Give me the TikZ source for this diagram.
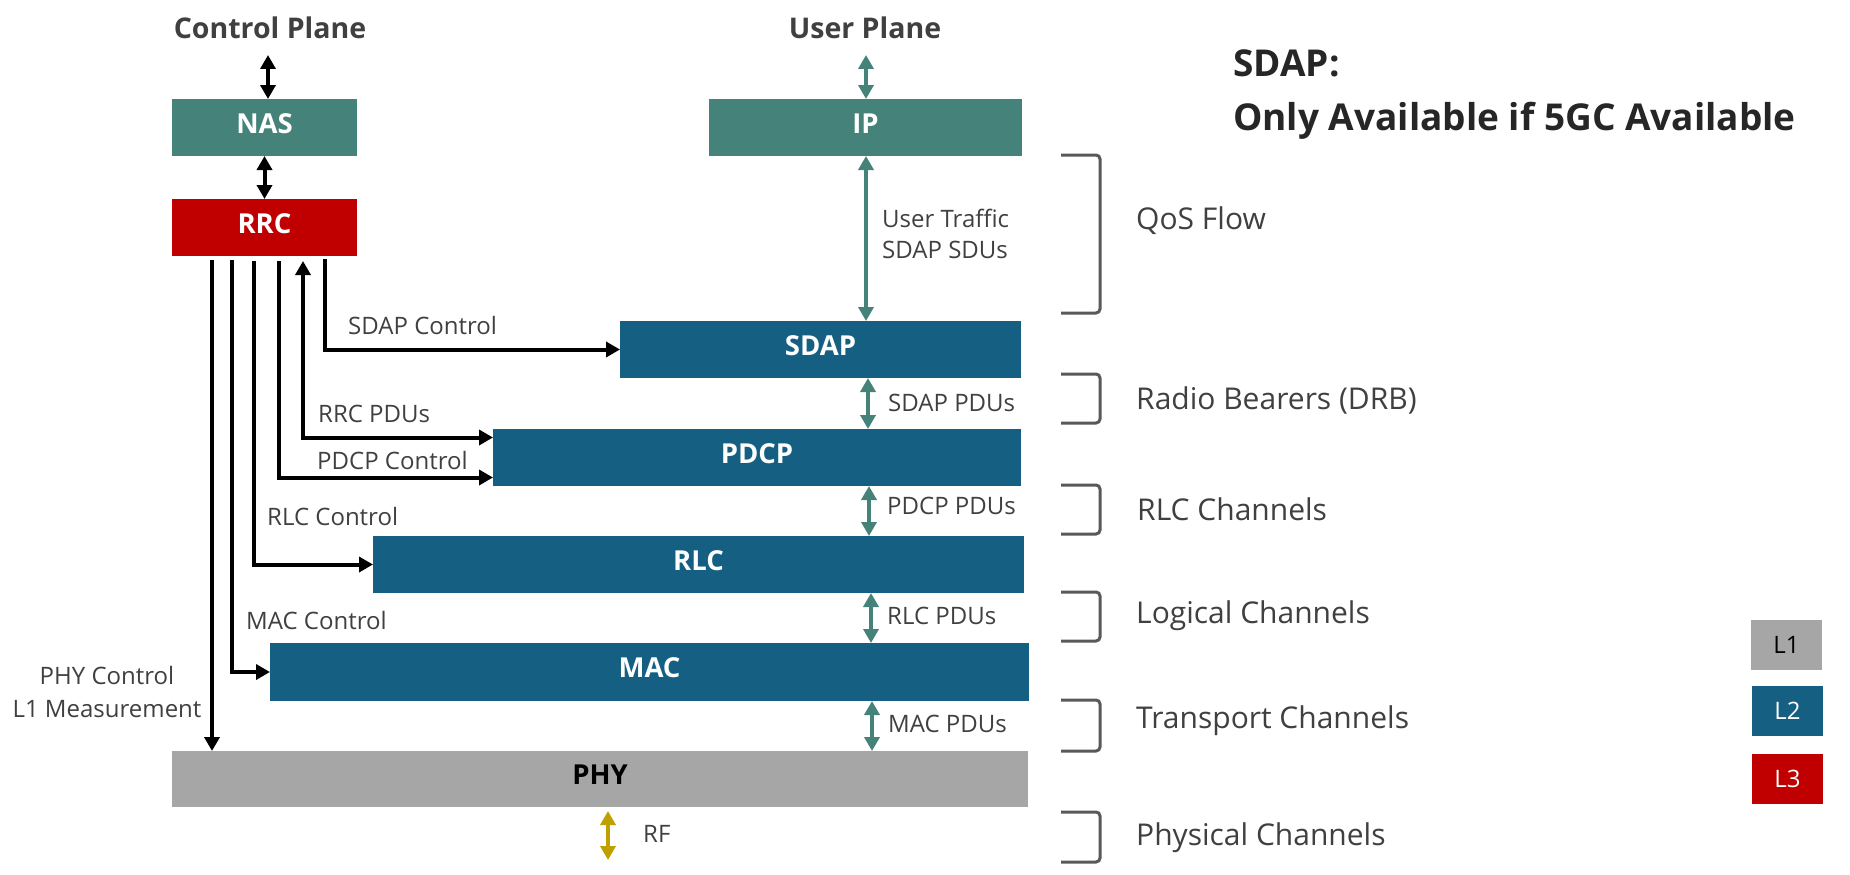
\documentclass[tikz,border=0pt]{standalone}
\usepackage{fontspec}
\setmainfont{Open Sans}
\usetikzlibrary{arrows.meta}
\definecolor{cTeal}{HTML}{45837A}
\definecolor{cBlue}{HTML}{156082}
\definecolor{cRed}{HTML}{C00000}
\definecolor{cGray}{HTML}{A6A6A6}
\definecolor{cGold}{HTML}{C0A000}
\definecolor{cText}{HTML}{404040}
\definecolor{cTitle}{HTML}{262626}
\definecolor{cBracket}{HTML}{595959}
\begin{document}
\begin{tikzpicture}[x=1pt,y=-1pt,
  layer/.style={rectangle, inner sep=0pt, outer sep=0pt, anchor=north west,
    font=\bfseries\fontsize{27.5}{30}\selectfont, text=white, text height=17pt, text depth=6pt},
  legendbox/.style={rectangle, inner sep=0pt, outer sep=0pt, anchor=north west,
    minimum width=71pt, minimum height=50pt, font=\fontsize{24}{28}\selectfont, text=white},
  lbl/.style={inner sep=0pt, anchor=base west, text=cText, font=\fontsize{24}{28}\selectfont},
  sidelbl/.style={inner sep=0pt, anchor=base west, text=cText, font=\fontsize{30}{34}\selectfont},
  planetitle/.style={inner sep=0pt, anchor=base, text=cText, font=\bfseries\fontsize{28.5}{32}\selectfont},
  bigtitle/.style={inner sep=0pt, anchor=base west, text=cTitle, font=\bfseries\fontsize{37}{42}\selectfont},
  ctl/.style={draw=black, line width=4pt, -{Triangle[width=15pt,length=14pt]}},
  ctlboth/.style={draw=black, line width=4pt, {Triangle[width=15pt,length=14pt]}-{Triangle[width=15pt,length=14pt]}},
  usr/.style={draw=cTeal, line width=4pt, {Triangle[width=15pt,length=14pt]}-{Triangle[width=15pt,length=14pt]}},
  rfarrow/.style={draw=cGold, line width=4pt, {Triangle[width=15pt,length=14pt]}-{Triangle[width=15pt,length=14pt]}},
  bracket/.style={draw=cBracket, line width=3pt, rounded corners=4pt}
]
\useasboundingbox[fill=white] (0,0) rectangle (1850,875);

% layer boxes
\node[layer, fill=cTeal, minimum width=185pt, minimum height=57pt] (NAS) at (172,99) {NAS};
\node[layer, fill=cRed, minimum width=185pt, minimum height=57pt] (RRC) at (172,199) {RRC};
\node[layer, fill=cTeal, minimum width=313pt, minimum height=57pt] (IP) at (709,99) {IP};
\node[layer, fill=cBlue, minimum width=401pt, minimum height=57pt] (SDAP) at (620,321) {SDAP};
\node[layer, fill=cBlue, minimum width=528pt, minimum height=57pt] (PDCP) at (493,429) {PDCP};
\node[layer, fill=cBlue, minimum width=651pt, minimum height=57pt] (RLC) at (373,536) {RLC};
\node[layer, fill=cBlue, minimum width=759pt, minimum height=58pt] (MAC) at (270,643) {MAC};
\node[layer, fill=cGray, text=black, minimum width=856pt, minimum height=56pt] (PHY) at (172,751) {PHY};

% titles
\node[planetitle] (cptitle) at (270,39) {Control Plane};
\node[planetitle] (uptitle) at (865,39) {User Plane};
\node[bigtitle] (note1) at (1233,77) {SDAP:};
\node[bigtitle] (note2) at (1233,130) {Only Available if 5GC Available};

% control plane arrows
\coordinate (cpTop) at (268,55);
\draw[ctlboth] (cpTop) -- (cpTop |- NAS.north);
\draw[ctlboth] (NAS.south) -- (RRC.north);

\coordinate (c1) at ([xshift=40pt,yshift=-4pt]RRC.south west);
\coordinate (c2) at ([xshift=60pt,yshift=-4pt]RRC.south west);
\coordinate (c3) at ([xshift=82pt,yshift=-5pt]RRC.south west);
\coordinate (c4) at ([xshift=107pt,yshift=-5pt]RRC.south west);
\coordinate (c5) at ([xshift=131pt,yshift=-5pt]RRC.south west);
\coordinate (c6) at ([xshift=153pt,yshift=-3pt]RRC.south west);
\draw[ctl] (c1) -- (c1 |- PHY.north);
\draw[ctl] (c2) |- (MAC.west);
\draw[ctl] (c3) |- (RLC.west);
\draw[ctl] (c4) |- ([yshift=-20pt]PDCP.west);
\draw[ctlboth] (c5) |- ([yshift=20pt]PDCP.west);
\draw[ctl] (c6) |- (SDAP.west);

% user plane arrows
\coordinate (upTop) at (866,55);
\coordinate (xa) at (866,0);
\coordinate (xb) at (868,0);
\coordinate (xc) at (869,0);
\coordinate (xd) at (871,0);
\coordinate (xe) at (872,0);
\draw[usr] (upTop) -- (upTop |- IP.north);
\draw[usr] (IP.south -| xa) -- (SDAP.north -| xa);
\draw[usr] (SDAP.south -| xb) -- (PDCP.north -| xb);
\draw[usr] (PDCP.south -| xc) -- (RLC.north -| xc);
\draw[usr] (RLC.south -| xd) -- (MAC.north -| xd);
\draw[usr] (MAC.south -| xe) -- (PHY.north -| xe);

% RF
\coordinate (rfEnd) at (608,860);
\draw[rfarrow] ([yshift=-4pt]PHY.south -| rfEnd) -- (rfEnd);

% connector labels
\node[lbl] (lSDAPc) at (348,334) {SDAP Control};
\node[lbl] (lRRCp) at (318,422) {RRC PDUs};
\node[lbl] (lPDCPc) at (317,469) {PDCP Control};
\node[lbl] (lRLCc) at (267,525) {RLC Control};
\node[lbl] (lMACc) at (246,629) {MAC Control};
\node[lbl, anchor=base] (lPHYa) at (107,684) {PHY Control};
\node[lbl, anchor=base] (lPHYb) at (107,717) {L1 Measurement};
\node[lbl] (lUTa) at (882,227) {User Traffic};
\node[lbl] (lUTb) at (882,258) {SDAP SDUs};
\node[lbl] (lSDAPp) at (888,411) {SDAP PDUs};
\node[lbl] (lPDCPp) at (887,514) {PDCP PDUs};
\node[lbl] (lRLCp) at (887,624) {RLC PDUs};
\node[lbl] (lMACp) at (888,732) {MAC PDUs};
\node[lbl] (lRF) at (643,842) {RF};

% brackets
\draw[bracket] (1061,155) -- (1100,155) -- (1100,313) -- (1061,313);
\draw[bracket] (1061,374) -- (1100,374) -- (1100,423) -- (1061,423);
\draw[bracket] (1061,485) -- (1100,485) -- (1100,534) -- (1061,534);
\draw[bracket] (1061,592) -- (1100,592) -- (1100,641) -- (1061,641);
\draw[bracket] (1061,700) -- (1100,700) -- (1100,751) -- (1061,751);
\draw[bracket] (1061,812) -- (1100,812) -- (1100,862) -- (1061,862);

% side labels
\node[sidelbl] (sQoS) at (1136,229) {QoS Flow};
\node[sidelbl] (sRB) at (1136,409) {Radio Bearers (DRB)};
\node[sidelbl] (sRLC) at (1137,520) {RLC Channels};
\node[sidelbl] (sLog) at (1136,623) {Logical Channels};
\node[sidelbl] (sTr) at (1136,728) {Transport Channels};
\node[sidelbl] (sPhy) at (1136,845) {Physical Channels};

% legend
\node[legendbox, fill=cGray, text=black] (L1) at (1751,620) {L1};
\node[legendbox, fill=cBlue] (L2) at (1752,686) {L2};
\node[legendbox, fill=cRed] (L3) at (1752,754) {L3};
\end{tikzpicture}
\end{document}
